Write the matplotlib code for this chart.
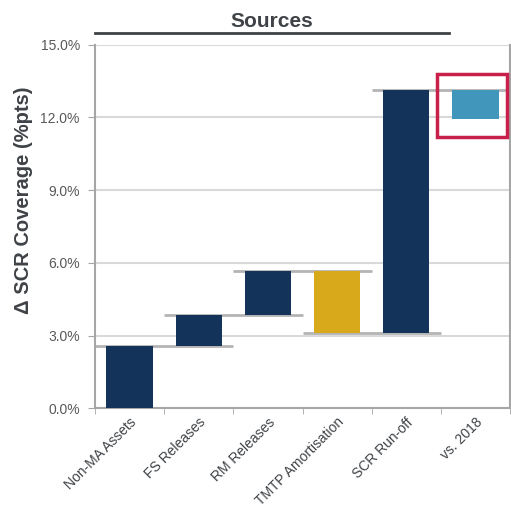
"""
Waterfall of SCR coverage movements by source.

Output:
- out.png
"""

import matplotlib.pyplot as plt
from matplotlib.patches import Rectangle
from matplotlib.ticker import FuncFormatter

plt.rcParams["font.family"] = ["Liberation Sans", "DejaVu Sans"]

CATEGORIES = ["Non-MA Assets", "FS Releases", "RM Releases",
              "TMTP Amortisation", "SCR Run-off", "vs. 2018"]
# running level before and after each step (%pts)
STARTS = [0.0, 2.55, 3.85, 5.65, 3.10, 13.15]
ENDS = [2.55, 3.85, 5.65, 3.10, 13.15, 11.95]
COLOURS = ["#14335a", "#14335a", "#14335a", "#d9a91c", "#14335a", "#4096bb"]

TEXT_DARK = "#3f4347"
TEXT_GREY = "#595959"
AXIS_GREY = "#a6a6a6"


def main():
    fig = plt.figure(figsize=(5.11, 5.09), dpi=100)
    ax = fig.add_axes([0.186, 0.198, 0.812, 0.714])

    x = list(range(len(CATEGORIES)))
    bottoms = [min(s, e) for s, e in zip(STARTS, ENDS)]
    heights = [abs(e - s) for s, e in zip(STARTS, ENDS)]
    ax.bar(x, heights, bottom=bottoms, width=0.67, color=COLOURS, zorder=3)

    # connectors carry each end level across to the next column
    for i in range(len(CATEGORIES) - 1):
        ax.plot([i - 0.5, i + 1.5], [ENDS[i], ENDS[i]], color="#b4b4b4",
                linewidth=2, zorder=2, solid_capstyle="butt")

    ax.set_xlim(-0.5, len(CATEGORIES) - 0.5)
    ax.set_ylim(0, 15)
    ax.set_yticks([0, 3, 6, 9, 12, 15])
    ax.yaxis.set_major_formatter(FuncFormatter(lambda v, _: f"{v:.1f}%"))
    ax.grid(axis="y", color="#d9d9d9", linewidth=1.5, zorder=0)
    ax.set_axisbelow(True)

    ax.set_xticks(x)
    ax.set_xticklabels(CATEGORIES, rotation=45, ha="right",
                       rotation_mode="anchor", fontsize=10, color=TEXT_DARK)
    ax.set_xticks([i - 0.5 for i in range(len(CATEGORIES) + 1)], minor=True)
    ax.tick_params(axis="x", which="major", length=0, pad=5)
    ax.tick_params(axis="x", which="minor", length=4, color=AXIS_GREY)
    ax.tick_params(axis="y", length=5, color=AXIS_GREY, labelsize=10,
                   labelcolor=TEXT_GREY, pad=6)

    for side in ["left", "bottom", "right"]:
        ax.spines[side].set_color(AXIS_GREY)
        ax.spines[side].set_linewidth(1.5)
    ax.spines["top"].set_visible(False)

    ax.set_ylabel("Δ SCR Coverage (%pts)", fontsize=14.5, fontweight="bold",
                  color=TEXT_DARK)
    ax.yaxis.set_label_coords(-0.15, 0.573)

    # highlight the year-on-year comparison
    ax.add_patch(Rectangle((4.45, 11.2), 1.0, 2.6, fill=False,
                           edgecolor="#c8204a", linewidth=2.5, zorder=4,
                           clip_on=False))

    # section heading with rule underneath
    ax.text(0.427, 1.063, "Sources", transform=ax.transAxes, ha="center",
            va="center", fontsize=15, fontweight="bold", color=TEXT_DARK)
    ax.plot([0.0, 0.853], [1.033, 1.033], transform=ax.transAxes,
            color=TEXT_DARK, linewidth=2, clip_on=False)

    fig.savefig("out.png", dpi=100)
    plt.close(fig)


if __name__ == "__main__":
    main()
